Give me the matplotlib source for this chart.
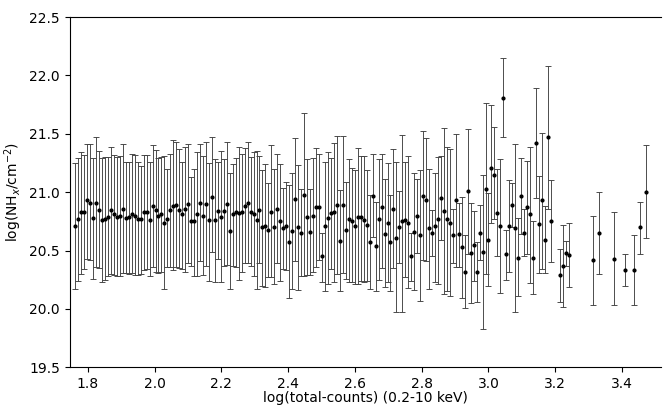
import numpy as np
import matplotlib
matplotlib.use('Agg')
import matplotlib.pyplot as plt

# log(total counts) bin centres
log_counts = [
    1.762, 1.771, 1.780, 1.789, 1.798, 1.807, 1.815, 1.824, 1.833, 1.842,
    1.851, 1.860, 1.869, 1.878, 1.887, 1.896, 1.905, 1.913, 1.922, 1.931,
    1.940, 1.949, 1.958, 1.967, 1.976, 1.985, 1.994, 2.003, 2.011, 2.020,
    2.029, 2.038, 2.047, 2.056, 2.065, 2.074, 2.083, 2.092, 2.101, 2.109,
    2.118, 2.127, 2.136, 2.145, 2.154, 2.163, 2.172, 2.181, 2.190, 2.199,
    2.208, 2.216, 2.225, 2.234, 2.243, 2.252, 2.261, 2.270, 2.279, 2.288,
    2.297, 2.306, 2.314, 2.323, 2.332, 2.341, 2.350, 2.359, 2.368, 2.377,
    2.386, 2.395, 2.404, 2.412, 2.421, 2.430, 2.439, 2.448, 2.457, 2.466,
    2.475, 2.484, 2.493, 2.502, 2.510, 2.519, 2.528, 2.537, 2.546, 2.555,
    2.564, 2.573, 2.582, 2.591, 2.600, 2.608, 2.617, 2.626, 2.635, 2.644,
    2.653, 2.662, 2.671, 2.680, 2.689, 2.698, 2.706, 2.715, 2.724, 2.733,
    2.742, 2.751, 2.760, 2.769, 2.778, 2.787, 2.796, 2.804, 2.813, 2.822,
    2.831, 2.840, 2.849, 2.858, 2.867, 2.876, 2.885, 2.894, 2.902, 2.911,
    2.920, 2.929, 2.938, 2.947, 2.956, 2.965, 2.974, 2.983, 2.992, 3.000,
    3.009, 3.018, 3.027, 3.036, 3.045, 3.054, 3.063, 3.072, 3.081, 3.090,
    3.098, 3.107, 3.116, 3.125, 3.134, 3.143, 3.152, 3.161, 3.170, 3.179,
    3.188, 3.214, 3.223, 3.232, 3.241, 3.312, 3.330, 3.375, 3.410, 3.437,
    3.455, 3.473,
]

# log(NH) best value
log_nh = [
    20.71, 20.77, 20.83, 20.83, 20.93, 20.91, 20.78, 20.91, 20.85, 20.76,
    20.77, 20.79, 20.85, 20.81, 20.79, 20.80, 20.86, 20.78, 20.79, 20.81,
    20.80, 20.77, 20.77, 20.83, 20.83, 20.76,
    20.88, 20.85, 20.80, 20.81, 20.74, 20.77, 20.85, 20.88, 20.89, 20.85,
    20.81, 20.86, 20.90, 20.75, 20.75, 20.81, 20.91, 20.80, 20.90, 20.76,
    20.96, 20.76, 20.84, 20.79, 20.84, 20.90, 20.67,
    20.81, 20.83, 20.82, 20.83, 20.88, 20.91, 20.83, 20.81, 20.76, 20.85,
    20.70, 20.71, 20.68, 20.83, 20.70, 20.86, 20.75, 20.69, 20.71, 20.57,
    20.67, 20.94, 20.70, 20.65, 20.98, 20.79,
    20.66, 20.80, 20.87, 20.87, 20.45, 20.71, 20.78, 20.82, 20.83, 20.89,
    20.58, 20.89, 20.68, 20.77, 20.75, 20.71, 20.79, 20.79, 20.76, 20.72,
    20.57, 20.97, 20.54, 20.77, 20.87, 20.64, 20.74,
    20.57, 20.86, 20.61, 20.70, 20.75, 20.76, 20.74, 20.45, 20.66, 20.80,
    20.63, 20.97, 20.93, 20.69, 20.65, 20.71, 20.77, 20.95, 20.84, 20.77,
    20.74, 20.63, 20.93, 20.64, 20.53, 20.32, 21.01,
    20.48, 20.55, 20.32, 20.65, 20.49, 21.03, 20.59, 21.21, 21.15, 20.82,
    20.71, 21.81, 20.47, 20.71, 20.89, 20.69, 20.44, 20.97, 20.65, 20.87,
    20.81, 20.44, 21.42, 20.73, 20.93, 20.59, 21.47,
    20.75, 20.29, 20.37, 20.48, 20.46, 20.42, 20.65, 20.43, 20.33, 20.33,
    20.70, 21.00,
]

# upper bound
nh_hi = [
    21.25, 21.29, 21.34, 21.32, 21.41, 21.41, 21.29, 21.47, 21.35, 21.29,
    21.30, 21.30, 21.39, 21.32, 21.30, 21.31, 21.41, 21.26, 21.26, 21.33,
    21.32, 21.26, 21.22, 21.32, 21.32, 21.26,
    21.40, 21.36, 21.29, 21.30, 21.31, 21.20, 21.33, 21.45, 21.43, 21.37,
    21.26, 21.39, 21.41, 21.13, 21.20, 21.34, 21.41, 21.31, 21.43, 21.25,
    21.47, 21.28, 21.26, 21.35, 21.28, 21.43, 21.16,
    21.24, 21.29, 21.39, 21.33, 21.38, 21.43, 21.30, 21.34, 21.35, 21.31,
    21.19, 21.24, 21.08, 21.40, 21.20, 21.33, 21.24, 21.04, 21.09, 21.06,
    21.16, 21.46, 21.23, 21.03, 21.68, 21.28,
    21.03, 21.29, 21.38, 21.33, 20.65, 21.26, 21.34, 21.29, 21.42, 21.48,
    21.02, 21.48, 21.09, 21.28, 21.21, 21.19, 21.38, 21.31, 21.31, 21.19,
    20.98, 21.33, 20.92, 21.28, 21.33, 21.11, 21.25,
    20.98, 21.37, 21.26, 21.01, 21.49, 21.26, 21.31, 20.65, 21.16, 21.11,
    21.19, 21.52, 21.46, 21.20, 20.85, 21.16, 21.30, 21.31, 21.55, 21.39,
    21.37, 20.86, 21.50, 20.91, 20.96, 20.63, 21.54,
    20.91, 20.84, 20.57, 20.89, 21.15, 21.76, 20.99, 21.75, 21.56, 21.20,
    21.28, 22.15, 20.68, 21.10, 21.08, 21.41, 20.78, 21.29, 20.86, 21.27,
    21.39, 20.75, 21.89, 21.14, 21.51, 20.88, 22.08,
    21.10, 20.51, 20.72, 20.58, 20.74, 20.80, 21.00, 20.83, 20.47, 20.63,
    20.92, 21.40,
]

# lower bound
nh_lo = [
    20.17, 20.24, 20.30, 20.34, 20.43, 20.42, 20.26, 20.36, 20.35, 20.23,
    20.25, 20.28, 20.30, 20.29, 20.28, 20.28, 20.31, 20.31, 20.30, 20.31,
    20.29, 20.29, 20.30, 20.33, 20.34, 20.28,
    20.36, 20.32, 20.31, 20.32, 20.17, 20.36, 20.36, 20.33, 20.36, 20.35,
    20.34, 20.32, 20.39, 20.37, 20.28, 20.28, 20.41, 20.29, 20.37, 20.24,
    20.49, 20.23, 20.43, 20.23, 20.37, 20.38, 20.17,
    20.37, 20.36, 20.25, 20.32, 20.39, 20.39, 20.37, 20.28, 20.17, 20.39,
    20.20, 20.19, 20.27, 20.27, 20.21, 20.39, 20.24, 20.34, 20.33, 20.09,
    20.17, 20.41, 20.16, 20.28, 20.28, 20.29,
    20.29, 20.32, 20.36, 20.42, 20.23, 20.15, 20.21, 20.34, 20.23, 20.30,
    20.15, 20.31, 20.26, 20.23, 20.23, 20.21, 20.21, 20.24, 20.23, 20.24,
    20.17, 20.62, 20.15, 20.25, 20.35, 20.19, 20.23,
    20.15, 20.35, 19.97, 20.39, 19.97, 20.27, 20.18, 20.24, 20.16, 20.48,
    20.07, 20.42, 20.41, 20.17, 20.45, 20.23, 20.21, 20.59, 20.13, 20.15,
    20.11, 20.39, 20.36, 20.36, 20.09, 20.01, 20.47,
    20.05, 20.24, 20.06, 20.42, 19.83, 20.30, 20.20, 20.74, 20.77, 20.45,
    20.14, 21.47, 20.25, 20.32, 20.70, 19.97, 20.11, 20.64, 20.45, 20.47,
    20.22, 20.13, 20.95, 20.31, 20.34, 20.31, 20.86,
    20.40, 20.06, 20.02, 20.37, 20.19, 20.03, 20.30, 20.03, 20.20, 20.03,
    20.47, 20.61,
]

x = np.array(log_counts)
y = np.array(log_nh)
err = [y - np.array(nh_lo), np.array(nh_hi) - y]

fig = plt.figure(figsize=(6.65, 4.05), dpi=100)
ax = fig.add_axes([0.105, 0.093, 0.889, 0.865])

ax.errorbar(x, y, yerr=err, fmt='o', color='k', ms=2.0,
            ecolor='0.25', elinewidth=0.65, capsize=2, capthick=0.65)

ax.set_xlim(1.746, 3.517)
ax.set_ylim(19.5, 22.5)
ax.set_xticks([1.8, 2.0, 2.2, 2.4, 2.6, 2.8, 3.0, 3.2, 3.4])
ax.set_yticks([19.5, 20.0, 20.5, 21.0, 21.5, 22.0, 22.5])
ax.spines['right'].set_visible(False)

ax.set_xlabel('log(total-counts) (0.2-10 keV)', labelpad=0)
ax.set_ylabel(r'log(NH$_x$/cm$^{-2}$)')

fig.savefig('out.png', dpi=100)
